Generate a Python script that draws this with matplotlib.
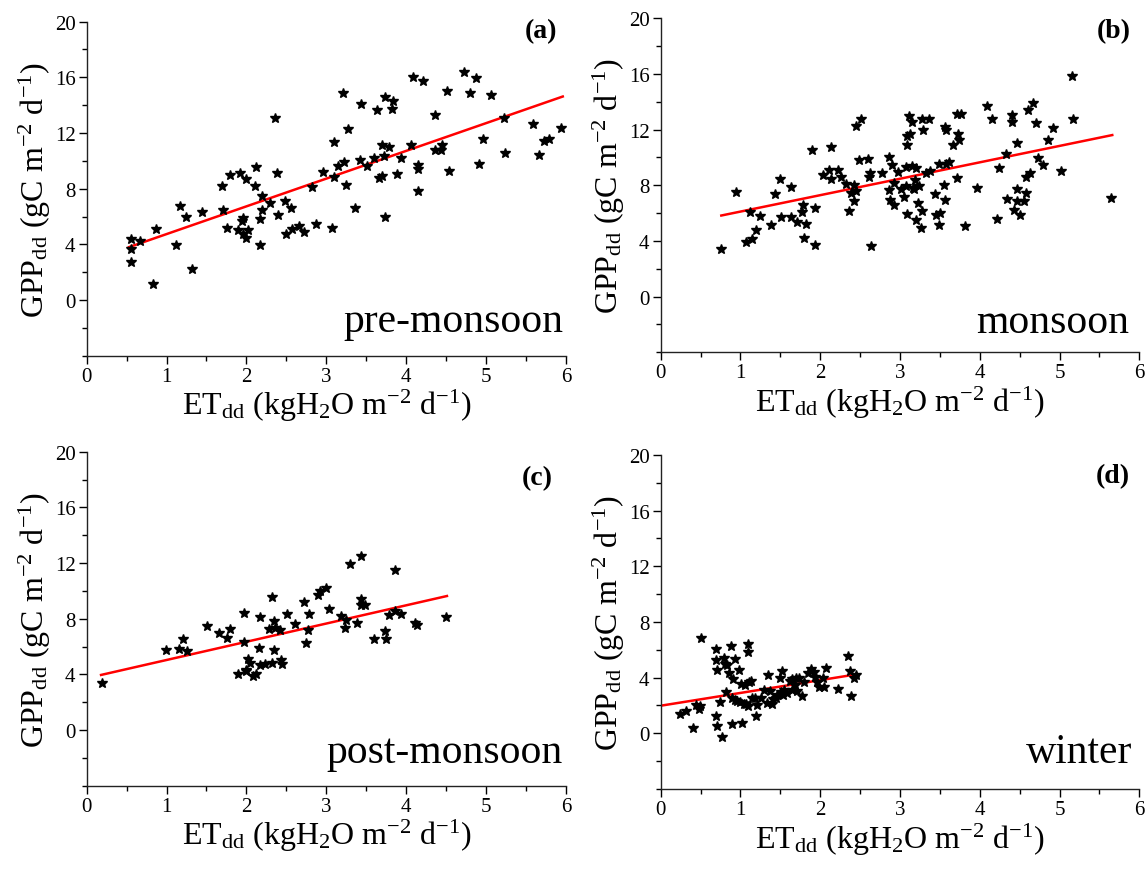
import matplotlib
matplotlib.use("Agg")
import matplotlib.pyplot as plt
from matplotlib.ticker import MultipleLocator

plt.rcParams['font.family'] = ['Liberation Serif', 'DejaVu Serif']
plt.rcParams['mathtext.fontset'] = 'custom'
plt.rcParams['mathtext.rm'] = 'Liberation Serif'
plt.rcParams['mathtext.it'] = 'Liberation Serif:italic'
plt.rcParams['mathtext.bf'] = 'Liberation Serif:bold'

# (a) pre-monsoon
et_a = [0.55, 0.55, 0.56, 0.67, 0.87, 0.83, 1.12, 1.17, 1.24, 1.32, 1.44, 1.69, 1.71, 1.76,
        1.79, 1.90, 1.92, 1.95, 1.96, 1.96, 1.99, 2.00, 2.02, 2.11, 2.12, 2.17, 2.17, 2.19,
        2.20, 2.29, 2.36, 2.38, 2.39, 2.48, 2.49, 2.56, 2.57, 2.66, 2.72, 2.82, 2.87, 2.96,
        3.07, 3.10, 3.10, 3.14, 3.21, 3.22, 3.25, 3.27, 3.36, 3.42, 3.44, 3.51, 3.60, 3.63,
        3.66, 3.70, 3.70, 3.72, 3.73, 3.74, 3.78, 3.82, 3.83, 3.88, 3.94, 4.06, 4.09, 4.15,
        4.15, 4.15, 4.21, 4.36, 4.36, 4.43, 4.45, 4.51, 4.53, 4.72, 4.80, 4.88, 4.91, 4.96,
        5.06, 5.23, 5.24, 5.59, 5.66, 5.72, 5.79, 5.94]
gpp_a = [4.37, 3.63, 2.73, 4.22, 5.08, 1.14, 3.96, 6.79, 5.96, 2.20, 6.35, 8.20, 6.46, 5.19,
         9.01, 5.05, 9.16, 5.67, 5.91, 4.73, 8.70, 4.46, 5.03, 8.22, 9.54, 5.80, 3.96, 7.49,
         6.48, 6.99, 13.05, 9.14, 6.09, 7.08, 4.73, 6.62, 5.12, 5.32, 4.88, 8.11, 5.45, 9.23,
         5.19, 8.84, 11.36, 9.63, 14.86, 9.93, 8.26, 12.29, 6.64, 10.04, 14.09, 9.60, 10.18, 13.63,
         8.79, 8.92, 11.12, 10.33, 5.93, 14.57, 10.97, 13.74, 14.31, 9.08, 10.22, 11.14, 16.00, 9.69,
         9.41, 7.82, 15.76, 13.32, 10.79, 10.79, 11.14, 14.99, 9.30, 16.35, 14.86, 15.98, 9.80, 11.54,
         14.70, 13.08, 10.55, 12.62, 10.40, 11.41, 11.56, 12.37]
fit_a_x = [0.53, 5.96]
fit_a_y = [3.80, 14.62]

# (b) monsoon
et_b = [0.76, 0.95, 1.07, 1.12, 1.14, 1.20, 1.25, 1.38, 1.43, 1.49, 1.51, 1.63, 1.63, 1.71,
        1.77, 1.79, 1.80, 1.82, 1.90, 1.93, 1.94, 2.04, 2.11, 2.14, 2.14, 2.22, 2.26, 2.32,
        2.36, 2.39, 2.42, 2.42, 2.45, 2.45, 2.49, 2.51, 2.60, 2.61, 2.62, 2.63, 2.77, 2.86,
        2.86, 2.88, 2.90, 2.93, 2.93, 2.98, 3.01, 3.05, 3.08, 3.08, 3.09, 3.09, 3.09, 3.11,
        3.13, 3.15, 3.15, 3.16, 3.18, 3.19, 3.20, 3.20, 3.22, 3.24, 3.26, 3.28, 3.29, 3.28,
        3.33, 3.36, 3.37, 3.44, 3.45, 3.49, 3.49, 3.50, 3.55, 3.56, 3.58, 3.56, 3.58, 3.61,
        3.67, 3.71, 3.72, 3.73, 3.74, 3.77, 3.81, 3.96, 4.09, 4.15, 4.22, 4.24, 4.33, 4.34,
        4.40, 4.40, 4.43, 4.46, 4.46, 4.46, 4.50, 4.56, 4.58, 4.58, 4.61, 4.63, 4.67, 4.70,
        4.73, 4.79, 4.85, 4.92, 5.02, 5.15, 5.17, 5.65]
gpp_b = [3.45, 7.52, 3.93, 6.04, 4.11, 4.81, 5.78, 5.12, 7.34, 8.44, 5.69, 7.89, 5.71, 5.38,
         6.04, 6.55, 4.18, 5.21, 10.55, 3.71, 6.33, 8.70, 9.12, 10.73, 8.44, 9.12, 8.57, 8.09,
         6.11, 7.47, 7.98, 6.86, 12.26, 7.60, 9.82, 12.73, 9.89, 8.59, 8.84, 3.63, 8.90, 10.04,
         7.65, 6.97, 9.45, 6.57, 8.15, 8.95, 7.76, 7.12, 9.30, 7.96, 10.92, 5.96, 11.52, 12.95,
         11.67, 12.51, 9.41, 7.82, 7.71, 8.40, 9.23, 5.49, 6.70, 7.96, 4.95, 6.13, 11.93, 12.73,
         8.84, 12.73, 9.03, 7.34, 5.87, 9.54, 5.12, 6.02, 8.02, 12.15, 11.93, 6.95, 9.54, 9.69,
         10.86, 13.14, 8.48, 11.71, 11.25, 13.12, 5.05, 7.78, 13.67, 12.73, 5.60, 9.23, 10.26, 6.99,
         13.03, 12.53, 6.22, 11.03, 7.74, 6.86, 5.85, 6.86, 7.45, 8.62, 13.43, 8.84, 13.89, 12.44,
         9.93, 9.45, 11.27, 12.11, 8.99, 15.82, 12.75, 7.08]
fit_b_x = [0.76, 5.66]
fit_b_y = [5.82, 11.60]

# (c) post-monsoon
et_c = [0.19, 0.99, 1.15, 1.21, 1.26, 1.51, 1.66, 1.76, 1.80, 1.89, 1.97, 1.97, 1.99, 2.00,
        2.02, 2.04, 2.08, 2.12, 2.16, 2.17, 2.17, 2.23, 2.28, 2.32, 2.32, 2.34, 2.35, 2.36,
        2.42, 2.43, 2.44, 2.51, 2.61, 2.72, 2.74, 2.77, 2.78, 2.89, 2.92, 3.00, 3.03, 3.18,
        3.23, 3.25, 3.30, 3.39, 3.43, 3.43, 3.44, 3.49, 3.60, 3.73, 3.75, 3.78, 3.86, 3.86,
        3.93, 4.11, 4.14, 4.50]
gpp_c = [3.41, 5.78, 5.85, 6.57, 5.71, 7.49, 6.95, 6.62, 7.23, 4.00, 8.42, 6.31, 4.24, 4.33,
         5.12, 4.79, 3.87, 4.00, 5.93, 8.15, 4.64, 4.75, 7.23, 9.58, 4.81, 5.78, 7.82, 7.32,
         7.21, 5.05, 4.77, 8.31, 7.63, 9.23, 6.24, 7.16, 8.33, 9.71, 10.02, 10.20, 8.70, 8.18,
         7.36, 7.93, 11.96, 7.67, 12.48, 9.01, 9.41, 8.97, 6.55, 7.12, 6.55, 8.24, 11.47, 8.53,
         8.33, 7.67, 7.56, 8.15]
fit_c_x = [0.18, 4.51]
fit_c_y = [3.96, 9.63]

# (d) winter
et_d = [0.24, 0.32, 0.40, 0.44, 0.48, 0.49, 0.51, 0.69, 0.69, 0.69, 0.71, 0.71, 0.74, 0.77,
        0.79, 0.80, 0.82, 0.83, 0.86, 0.88, 0.89, 0.90, 0.91, 0.93, 0.93, 0.96, 0.98, 1.00,
        1.01, 1.02, 1.04, 1.06, 1.07, 1.09, 1.09, 1.10, 1.11, 1.13, 1.15, 1.18, 1.20, 1.21,
        1.26, 1.30, 1.33, 1.35, 1.37, 1.39, 1.41, 1.44, 1.46, 1.50, 1.51, 1.52, 1.53, 1.55,
        1.58, 1.62, 1.64, 1.65, 1.68, 1.69, 1.71, 1.73, 1.77, 1.80, 1.85, 1.88, 1.92, 1.94,
        1.96, 1.99, 2.03, 2.05, 2.07, 2.22, 2.35, 2.37, 2.39, 2.42, 2.45]
gpp_d = [1.41, 1.63, 0.40, 2.04, 1.71, 1.96, 6.84, 5.27, 6.09, 1.21, 0.53, 4.53, 2.26, -0.26,
         5.43, 4.95, 2.97, 4.88, 4.33, 6.26, 2.55, 0.68, 3.87, 5.32, 2.40, 2.31, 4.53, 2.22,
         3.52, 0.73, 2.13, 3.49, 2.07, 5.85, 1.93, 6.44, 3.65, 3.76, 2.55, 2.55, 1.27, 2.02,
         2.53, 3.08, 2.18, 4.18, 3.05, 2.09, 2.48, 2.53, 2.77, 3.98, 2.97, 4.48, 2.77, 3.14,
         2.86, 3.78, 3.08, 3.91, 3.45, 3.98, 3.03, 3.96, 2.66, 3.65, 4.35, 4.62, 4.40, 4.07,
         3.69, 3.36, 3.96, 3.36, 4.70, 3.16, 5.56, 4.46, 2.70, 3.96, 4.22]
fit_d_x = [0.0, 2.46]
fit_d_y = [1.98, 4.24]

panels = [
    ("(a)", "pre-monsoon", et_a, gpp_a, fit_a_x, fit_a_y),
    ("(b)", "monsoon", et_b, gpp_b, fit_b_x, fit_b_y),
    ("(c)", "post-monsoon", et_c, gpp_c, fit_c_x, fit_c_y),
    ("(d)", "winter", et_d, gpp_d, fit_d_x, fit_d_y),
]

# axes rectangles [left, bottom, width, height] in figure fraction
rects = [
    [0.0755, 0.590, 0.4175, 0.384],
    [0.5755, 0.594, 0.417, 0.384],
    [0.0755, 0.0957, 0.4175, 0.384],
    [0.5755, 0.092, 0.417, 0.384],
]
tag_pos = [(0.981, 0.972), (0.981, 0.963), (0.973, 0.921), (0.981, 0.938)]
season_pos = [(0.995, 0.075), (0.978, 0.061), (0.993, 0.071), (0.985, 0.082)]

xlab = r'ET$_{\mathrm{dd}}$ (kgH$_2$O m$^{-2}$ d$^{-1}$)'
ylab = r'GPP$_{\mathrm{dd}}$ (gC m$^{-2}$ d$^{-1}$)'

fig = plt.figure(figsize=(11.48, 8.70), dpi=100)

for i, (tag, season, x, y, fx, fy) in enumerate(panels):
    ax = fig.add_axes(rects[i])
    ax.plot(x, y, linestyle='none', marker='*', color='black', markersize=7.5, zorder=3)
    ax.plot(fx, fy, color='red', linewidth=1.8, zorder=2)

    ax.set_xlim(0, 6)
    ax.set_ylim(-4, 20)
    ax.set_xticks([0, 1, 2, 3, 4, 5, 6])
    ax.set_yticks([0, 4, 8, 12, 16, 20])
    ax.xaxis.set_minor_locator(MultipleLocator(0.5))
    ax.yaxis.set_minor_locator(MultipleLocator(2))
    ax.tick_params(which='major', direction='out', length=6, width=1, labelsize=15, pad=2)
    ax.tick_params(which='minor', direction='out', length=3.5, width=1)
    for s in ['top', 'right']:
        ax.spines[s].set_visible(False)
    for s in ['left', 'bottom']:
        ax.spines[s].set_linewidth(1.0)
        ax.spines[s].set_color('#222222')

    ax.set_xlabel(xlab, fontsize=23, labelpad=1)
    ax.set_ylabel(ylab, fontsize=23, labelpad=1)

    ax.text(tag_pos[i][0], tag_pos[i][1], tag, transform=ax.transAxes, ha='right', va='center',
            fontsize=20, fontweight='bold')
    ax.text(season_pos[i][0], season_pos[i][1], season, transform=ax.transAxes, ha='right',
            va='baseline', fontsize=30)

fig.savefig("out.png", dpi=100)
